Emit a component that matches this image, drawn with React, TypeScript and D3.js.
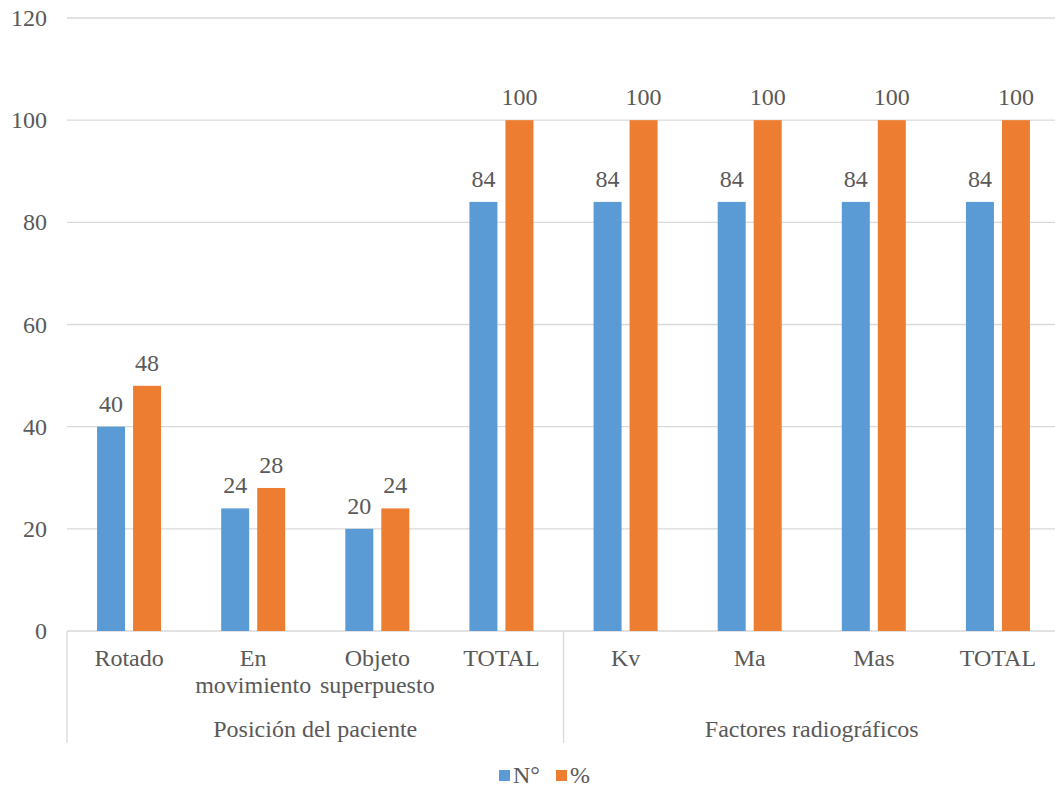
import React from "react";
import * as d3 from "d3";

const categories = ["Rotado", "En movimiento", "Objeto superpuesto", "TOTAL", "Kv", "Ma", "Mas", "TOTAL"];
const categoryLines = [["Rotado"], ["En", "movimiento"], ["Objeto", "superpuesto"], ["TOTAL"], ["Kv"], ["Ma"], ["Mas"], ["TOTAL"]];
const groups = [
  { name: "Posición del paciente", start: 0, end: 4 },
  { name: "Factores radiográficos", start: 4, end: 8 },
];
const seriesN = [40, 24, 20, 84, 84, 84, 84, 84];
const seriesPct = [48, 28, 24, 100, 100, 100, 100, 100];
const seriesNames = ["N°", "%"];
const colors = ["#5B9BD5", "#ED7D31"];
const yTicks = [0, 20, 40, 60, 80, 100, 120];

export default function App() {
  const W = 1055, H = 789;
  const left = 67, right = 1060, top = 18, bottom = 631;
  const x = d3.scaleBand<number>().domain(d3.range(categories.length)).range([left, right]);
  const y = d3.scaleLinear().domain([0, 120]).range([bottom, top]);
  const bw = 28, gap = 8;
  const ts = { fontFamily: '"Liberation Serif"', fontSize: "24px" } as React.CSSProperties;
  const txt = "#595959";
  const series = [seriesN, seriesPct];
  return (
    <svg width={W} height={H} style={{ position: "absolute", left: 0, top: 0 }}>
      <rect width={W} height={H} fill="#fff" />
      {yTicks.map((t) => (
        <g key={t}>
          <line x1={left} x2={right} y1={y(t)} y2={y(t)} stroke="#d9d9d9" strokeWidth={1.3} />
          <text x={47} y={y(t) + 8} textAnchor="end" style={ts} fill={txt}>{t}</text>
        </g>
      ))}
      {categories.map((c, i) => {
        const cx = x(i)! + x.bandwidth() / 2;
        return (
          <g key={i}>
            {series.map((s, k) => {
              const bx = k === 0 ? cx - gap / 2 - bw : cx + gap / 2;
              return (
                <g key={k}>
                  <rect x={bx} y={y(s[i])} width={bw} height={bottom - y(s[i])} fill={colors[k]} />
                  <text x={bx + bw / 2} y={y(s[i]) - 15} textAnchor="middle" style={ts} fill={txt}>{s[i]}</text>
                </g>
              );
            })}
            {categoryLines[i].map((ln, j) => (
              <text key={j} x={cx} y={666 + j * 27} textAnchor="middle" style={ts} fill={txt}>{ln}</text>
            ))}
          </g>
        );
      })}
      {groups.map((g, i) => {
        const gx0 = x(g.start)!;
        const gx1 = g.end < categories.length ? x(g.end)! : right;
        return (
          <g key={i}>
            <line x1={gx0} x2={gx0} y1={bottom} y2={743} stroke="#d9d9d9" strokeWidth={1.3} />
            <text x={(gx0 + gx1) / 2} y={737} textAnchor="middle" style={ts} fill={txt}>{g.name}</text>
          </g>
        );
      })}
      <g>
        <rect x={499} y={770} width={11} height={11} fill={colors[0]} />
        <text x={513} y={783} style={ts} fill={txt}>{seriesNames[0]}</text>
        <rect x={556} y={770} width={11} height={11} fill={colors[1]} />
        <text x={570} y={783} style={ts} fill={txt}>{seriesNames[1]}</text>
      </g>
    </svg>
  );
}
